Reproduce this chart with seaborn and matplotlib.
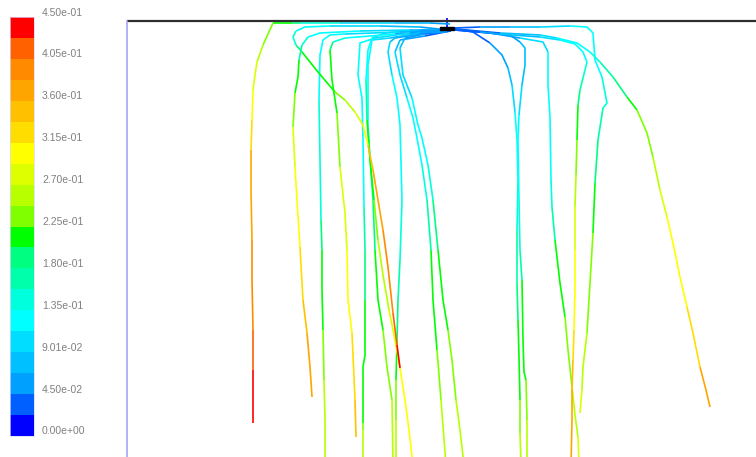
import numpy as np
import pandas as pd
import matplotlib
matplotlib.use("Agg")
import matplotlib.pyplot as plt
import seaborn as sns
from matplotlib.colors import ListedColormap, BoundaryNorm
from matplotlib.cm import ScalarMappable
from matplotlib.patches import Rectangle
from matplotlib.transforms import ScaledTranslation, blended_transform_factory

# ---------------------------------------------------------------------------
# Velocity magnitude scale (m/s), 20 banded colours from low to high
# ---------------------------------------------------------------------------
band_colors = ["#0000FF", "#0060FF", "#00A0FF", "#00C0FF", "#00DDFF",
               "#00FFFF", "#00FFDD", "#00FFAA", "#00FF80", "#00FF00",
               "#7FFF00", "#B8FF00", "#DDFF00", "#FFFF00", "#FFDD00",
               "#FFC000", "#FFA500", "#FF8A00", "#FF6000", "#FF0000"]
speed_levels = np.linspace(0.0, 0.45, 21)
tick_values = speed_levels[::2]
tick_labels = ["0.00e+00", "4.50e-02", "9.01e-02", "1.35e-01", "1.80e-01",
               "2.25e-01", "2.70e-01", "3.15e-01", "3.60e-01", "4.05e-01",
               "4.50e-01"]

# Geometry: x measured from the inlet axis, depth measured down from the lid
wall_left_x = -325
domain_right_x = 304
domain_depth = 436
inlet_x0, inlet_w, inlet_d0, inlet_h = -12, 14, 5.5, 3.5

# ---------------------------------------------------------------------------
# Pathlines released at the inlet: (x, depth, velocity magnitude)
# ---------------------------------------------------------------------------
path_01 = [(-2, 3, .03), (-22, 2, .06), (-57, 2, .08), (-92, 2, .10), (-112, 2, .12),
           (-152, 2, .17), (-160, 2, .20), (-179, 2, .215), (-189, 24, .235),
           (-195, 41, .26), (-197, 54, .28), (-199, 69, .30), (-200, 99, .32),
           (-201, 129, .35), (-201, 169, .37), (-200, 219, .38), (-200, 259, .385),
           (-199, 309, .39), (-199, 349, .43), (-199, 402, .44)]
path_02 = [(-4, 9, .03), (-32, 6, .07), (-72, 5, .10), (-122, 5, .12), (-147, 6, .125),
           (-156, 10, .13), (-159, 16, .14), (-156, 24, .17), (-150, 31, .20),
           (-134, 51, .215), (-117, 71, .22), (-107, 79, .24), (-97, 91, .27),
           (-89, 104, .29), (-84, 124, .33), (-79, 149, .36), (-74, 179, .37),
           (-69, 209, .38), (-64, 246, .39), (-59, 292, .41), (-55, 324, .43),
           (-52, 347, .44)]
path_03 = [(-6, 10, .03), (-42, 9, .08), (-92, 10, .11), (-132, 12, .125), (-144, 16, .13),
           (-150, 24, .15), (-153, 39, .19), (-154, 56, .215), (-157, 72, .23),
           (-159, 106, .26), (-157, 146, .29), (-155, 179, .30), (-152, 226, .31),
           (-149, 279, .33), (-145, 312, .35), (-142, 346, .37), (-140, 376, .38)]
path_04 = [(-5, 10, .03), (-52, 11, .09), (-107, 13, .12), (-122, 14, .125), (-129, 19, .125),
           (-132, 34, .125), (-133, 79, .13), (-132, 139, .14), (-131, 199, .17),
           (-130, 229, .20), (-130, 269, .215), (-129, 309, .22), (-128, 359, .25),
           (-127, 399, .26), (-127, 444, .26)]
path_05 = [(-6, 11, .03), (-57, 13, .10), (-107, 17, .13), (-119, 21, .18), (-122, 29, .20),
           (-120, 59, .215), (-115, 92, .23), (-112, 146, .26), (-107, 192, .28),
           (-105, 229, .30), (-104, 279, .305), (-100, 312, .31), (-97, 379, .32),
           (-96, 416, .36)]
path_06 = [(-4, 9, .03), (-42, 12, .08), (-77, 17, .11), (-92, 22, .125), (-94, 54, .125),
           (-90, 77, .125), (-89, 119, .125), (-88, 186, .14), (-87, 229, .18),
           (-87, 279, .215), (-87, 334, .215), (-89, 346, .22), (-89, 402, .215),
           (-89, 409, .25), (-89, 444, .25)]
path_07 = [(-3, 8, .03), (-32, 12, .07), (-62, 17, .10), (-80, 19, .12), (-84, 44, .125),
           (-84, 104, .13), (-82, 136, .145), (-79, 179, .18), (-77, 229, .20),
           (-74, 279, .215), (-69, 309, .23), (-65, 346, .24), (-60, 379, .25),
           (-59, 444, .26)]
path_08 = [(-5, 9, .03), (-32, 9, .07), (-67, 12, .10), (-80, 17, .12), (-84, 29, .125),
           (-86, 59, .14), (-85, 99, .19), (-82, 139, .215), (-78, 179, .23),
           (-74, 219, .25), (-69, 254, .26), (-63, 289, .27), (-57, 319, .28),
           (-52, 347, .29), (-47, 379, .30), (-43, 409, .305), (-39, 444, .31)]
path_09 = [(-2, 9, .02), (-32, 13, .05), (-57, 17, .08), (-62, 21, .09), (-64, 31, .10),
           (-60, 54, .11), (-55, 77, .12), (-52, 104, .125), (-50, 179, .13),
           (-51, 209, .14), (-52, 239, .16), (-54, 279, .19), (-55, 319, .21),
           (-56, 359, .23), (-56, 399, .25), (-56, 444, .26)]
path_10 = [(-2, 10, .02), (-27, 15, .05), (-52, 19, .08), (-57, 31, .09), (-52, 54, .10),
           (-45, 77, .11), (-39, 97, .12), (-35, 117, .125), (-30, 144, .13),
           (-25, 179, .15), (-21, 229, .19), (-19, 279, .215), (-15, 329, .22),
           (-11, 379, .24), (-6, 444, .26)]
path_11 = [(-1, 10, .02), (-27, 13, .05), (-47, 17, .08), (-52, 27, .09), (-49, 54, .10),
           (-40, 77, .11), (-34, 104, .12), (-30, 117, .125), (-24, 144, .14),
           (-19, 179, .17), (-14, 229, .20), (-9, 279, .215), (-4, 309, .22),
           (0, 339, .235), (4, 379, .25), (8, 409, .26), (12, 444, .27)]
path_12 = [(2, 8, .02), (21, 11, .03), (38, 22, .045), (50, 34, .06), (56, 47, .07),
           (60, 64, .08), (63, 91, .10), (65, 119, .125), (66, 159, .13), (65, 209, .15),
           (65, 262, .19), (66, 299, .21), (67, 336, .215), (68, 379, .23),
           (68, 412, .25), (69, 444, .26)]
path_13 = [(3, 9, .02), (28, 11, .04), (58, 14, .06), (68, 21, .07), (73, 27, .08),
           (73, 44, .085), (70, 64, .09), (67, 94, .11), (66, 119, .125), (67, 179, .14),
           (68, 229, .16), (70, 259, .19), (71, 319, .215), (72, 351, .215),
           (74, 359, .23), (75, 399, .25), (75, 444, .26)]
path_14 = [(3, 8, .02), (38, 12, .05), (68, 17, .08), (91, 21, .10), (96, 31, .11),
           (96, 64, .12), (98, 96, .125), (99, 159, .14), (100, 186, .16),
           (103, 219, .19), (108, 262, .215), (113, 296, .22), (116, 329, .23),
           (120, 366, .25), (123, 394, .26), (126, 416, .27), (127, 444, .27)]
path_15 = [(3, 9, .02), (48, 13, .06), (88, 16, .09), (108, 19, .11), (123, 23, .12),
           (131, 31, .125), (135, 41, .13), (131, 57, .15), (128, 69, .18), (126, 84, .20),
           (125, 119, .23), (124, 154, .25), (123, 186, .27), (123, 229, .29),
           (123, 269, .30), (122, 309, .31), (121, 339, .33), (120, 369, .35),
           (120, 399, .37), (119, 444, .38)]
path_16 = [(3, 7, .02), (28, 6, .05), (58, 6, .07), (88, 6, .09), (118, 5, .11),
           (135, 6, .12), (141, 12, .125), (143, 39, .125), (150, 56, .13), (155, 82, .14),
           (151, 87, .15), (146, 119, .17), (143, 162, .20), (141, 212, .215),
           (138, 262, .235), (135, 312, .25), (131, 346, .26), (130, 369, .27),
           (128, 392, .28)]
path_17 = [(3, 8, .02), (48, 12, .06), (88, 14, .09), (105, 17, .11), (125, 22, .12),
           (138, 31, .13), (148, 41, .15), (161, 56, .17), (175, 76, .20), (185, 89, .215),
           (195, 112, .235), (201, 136, .25), (208, 169, .27), (215, 196, .29),
           (221, 222, .30), (228, 256, .305), (235, 286, .31), (241, 312, .32),
           (248, 346, .35), (254, 369, .37), (258, 386, .38)]
path_18 = [(-5, 6, .02), (-5, -3, .02)]

pathlines = [path_01, path_02, path_03, path_04, path_05, path_06, path_07, path_08,
             path_09, path_10, path_11, path_12, path_13, path_14, path_15, path_16,
             path_17, path_18]

# ---------------------------------------------------------------------------
# Split each pathline into runs of constant colour band
# ---------------------------------------------------------------------------
n_bands = len(band_colors)
band_width = speed_levels[1] - speed_levels[0]
rows = []
run_id = 0
for path in pathlines:
    pts = np.asarray(path, dtype=float)
    seg_speed = 0.5 * (pts[:-1, 2] + pts[1:, 2])
    seg_band = np.clip((seg_speed / band_width).astype(int), 0, n_bands - 1)
    start = 0
    for i in range(1, len(seg_band) + 1):
        if i == len(seg_band) or seg_band[i] != seg_band[start]:
            for k in range(start, i + 1):
                rows.append((run_id, int(seg_band[start]), pts[k, 0], pts[k, 1]))
            run_id += 1
            start = i
runs = pd.DataFrame(rows, columns=["run", "band", "x", "depth"])

# ---------------------------------------------------------------------------
# Figure
# ---------------------------------------------------------------------------
sns.set_theme(style="white")
plt.rcParams["font.family"] = ["Liberation Sans", "DejaVu Sans"]

W, H = 756, 457
fig = plt.figure(figsize=(W / 100, H / 100), dpi=100)
fig.patch.set_facecolor("white")

ax = fig.add_axes([120 / W, 0, 636 / W, 442 / H])
palette = {i: c for i, c in enumerate(band_colors)}
sns.lineplot(data=runs, x="x", y="depth", units="run", hue="band", palette=palette,
             estimator=None, sort=False, legend=False, linewidth=1.2, ax=ax,
             solid_capstyle="butt")
ax.set_xlim(wall_left_x - 7, domain_right_x)
ax.set_ylim(domain_depth, -6)
ax.set_axis_off()

# walls and inlet
ax.plot([wall_left_x, domain_right_x + 5], [0, 0], color="#2e2e2e", lw=1.6, zorder=5,
        solid_capstyle="butt")
ax.plot([wall_left_x, wall_left_x], [-0.5, domain_depth + 5], color="#a4a4f4", lw=1.2,
        zorder=5)
ax.add_patch(Rectangle((inlet_x0, inlet_d0), inlet_w, inlet_h, color="black", zorder=6))

# colour bar
cax = fig.add_axes([10 / W, 21 / H, 24 / W, 419 / H])
sm = ScalarMappable(norm=BoundaryNorm(speed_levels, n_bands),
                    cmap=ListedColormap(band_colors))
cb = fig.colorbar(sm, cax=cax, boundaries=speed_levels)
cb.outline.set_edgecolor("#d8d8ff")
cb.outline.set_linewidth(0.5)
cax.set_yticks([])
cax.set_yticks([], minor=True)
cax.tick_params(which="both", length=0, labelright=False, labelleft=False)
tr = blended_transform_factory(cax.transAxes, cax.transData) + \
    ScaledTranslation(0, 4.5 / 100, fig.dpi_scale_trans)
for v, lab in zip(tick_values, tick_labels):
    cax.text(32 / 24, v, lab, transform=tr, ha="left", va="center",
             fontsize=7.5, color="#808080")

fig.savefig("out.png", dpi=100, facecolor="white")
